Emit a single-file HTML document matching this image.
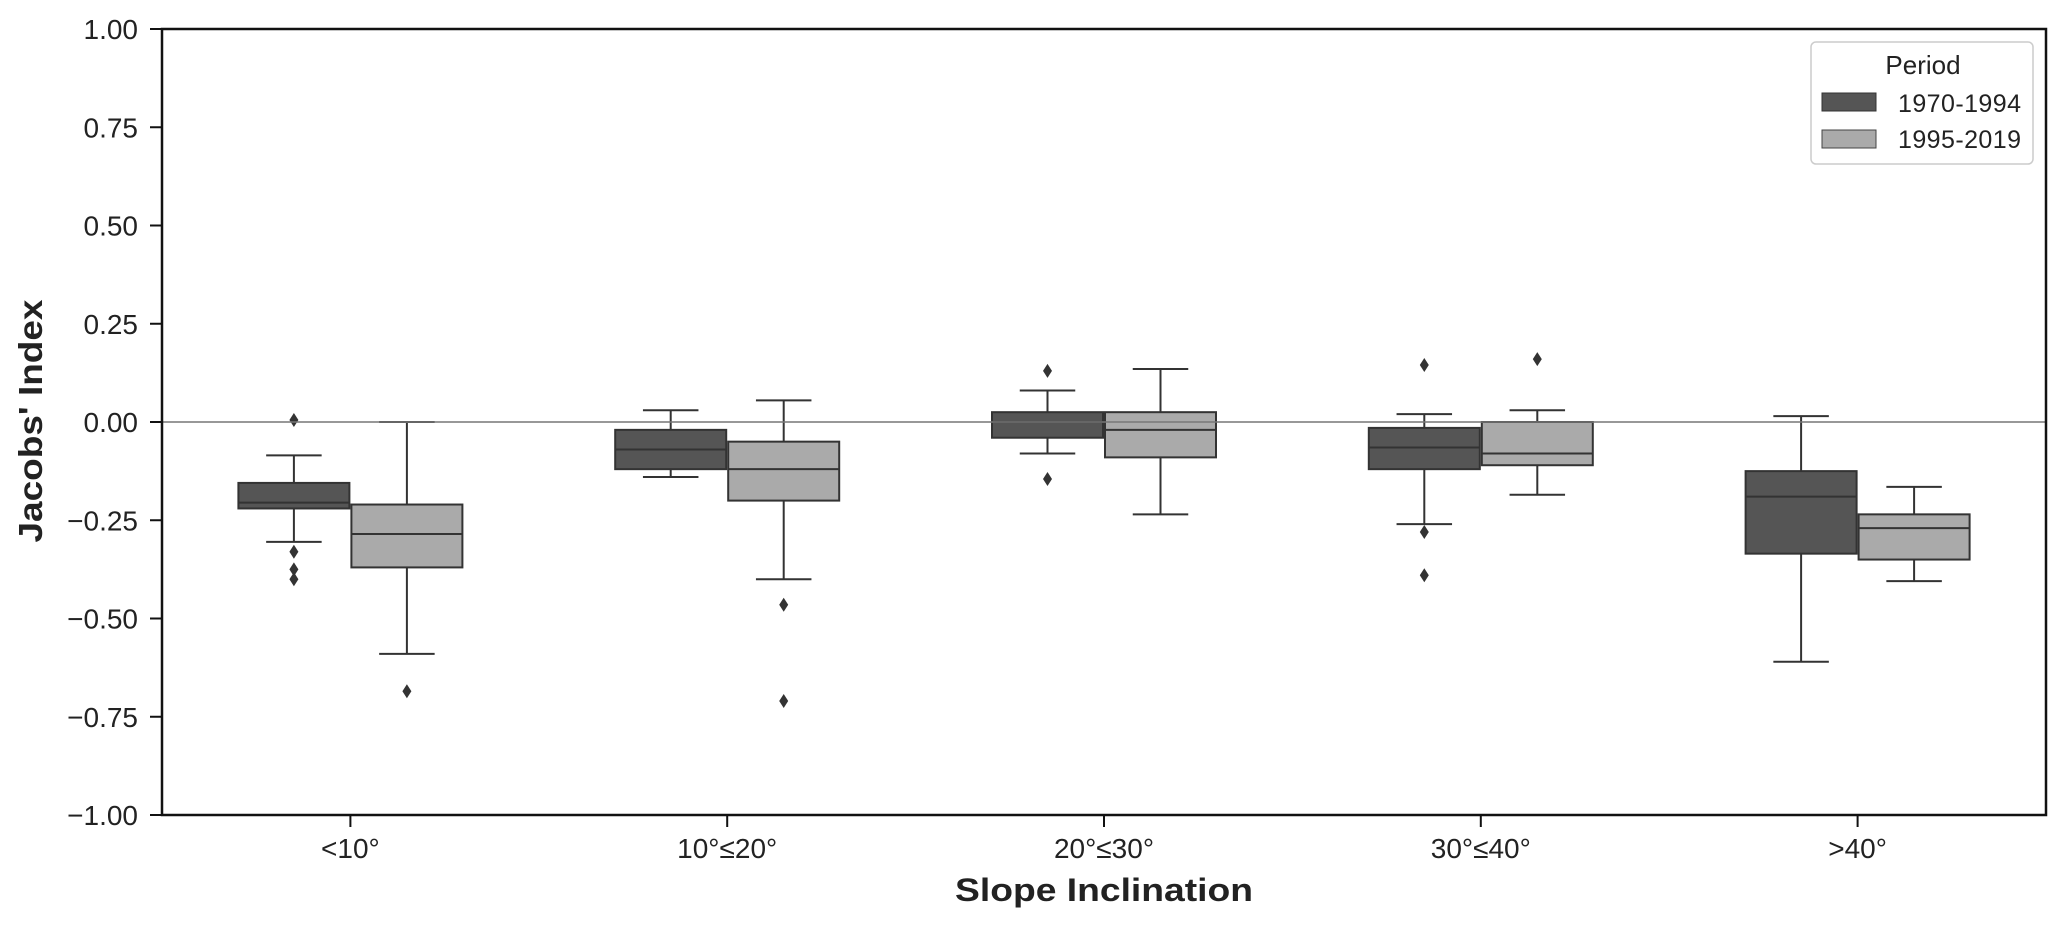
<!DOCTYPE html>
<html><head><meta charset="utf-8">
<style>
html,body{margin:0;padding:0;background:#fff;}
svg{display:block;font-family:"Liberation Sans",sans-serif;}
</style></head>
<body>
<svg id="chart" width="2067" height="928" viewBox="0 0 2067 928">
<rect x="0" y="0" width="2067" height="928" fill="#fff"/>
<g id="marks"></g>
<g id="axes"></g>
<g>
  <rect x="1811" y="42" width="222" height="122" rx="5" fill="#fff" stroke="#ccc" stroke-width="1.5"/>
  <text x="1923" y="74" font-size="26" text-anchor="middle" fill="#222">Period</text>
  <rect x="1822" y="93" width="54" height="18" fill="#555" stroke="#333"/>
  <text x="1898" y="112" font-size="25" textLength="123" fill="#222">1970-1994</text>
  <rect x="1822" y="130" width="54" height="18" fill="#aaa" stroke="#444"/>
  <text x="1898" y="148" font-size="25" textLength="123" fill="#222">1995-2019</text>
</g>
<text x="1104" y="901" font-size="32" font-weight="bold" text-anchor="middle" textLength="298" lengthAdjust="spacingAndGlyphs" fill="#222">Slope Inclination</text>
<text transform="translate(42,421) rotate(-90)" font-size="33" font-weight="bold" text-anchor="middle" textLength="243" lengthAdjust="spacingAndGlyphs" fill="#222">Jacobs' Index</text>
</svg>
<script>
const categories = ["<10°", "10°≤20°", "20°≤30°", "30°≤40°", ">40°"];
const periods = ["1970-1994", "1995-2019"];
// [whiskerLow, q1, median, q3, whiskerHigh]
const stats1970 = [
  [-0.305, -0.22, -0.205, -0.155, -0.085],
  [-0.14, -0.12, -0.07, -0.02, 0.03],
  [-0.08, -0.04, 0.0, 0.025, 0.08],
  [-0.26, -0.12, -0.065, -0.015, 0.02],
  [-0.61, -0.335, -0.19, -0.125, 0.015]
];
const stats1995 = [
  [-0.59, -0.37, -0.285, -0.21, 0.0],
  [-0.40, -0.20, -0.12, -0.05, 0.055],
  [-0.235, -0.09, -0.02, 0.025, 0.135],
  [-0.185, -0.11, -0.08, 0.0, 0.03],
  [-0.405, -0.35, -0.27, -0.235, -0.165]
];
const outliers1970 = [[0.005, -0.33, -0.375, -0.40], [], [0.13, -0.145], [0.145, -0.28, -0.39], []];
const outliers1995 = [[-0.685], [-0.465, -0.71], [], [0.16], []];
const yTicks = [1.0, 0.75, 0.5, 0.25, 0.0, -0.25, -0.5, -0.75, -1.0];

const L = 162, R = 2046, T = 29, B = 815;
const NS = "http://www.w3.org/2000/svg";
function y(v){ return B - (v + 1) / 2 * (B - T); }
function xc(i){ return L + (R - L) / categories.length * (i + 0.5); }
function el(tag, attrs, parent){ const e = document.createElementNS(NS, tag); for (const k in attrs) e.setAttribute(k, attrs[k]); parent.appendChild(e); return e; }

const marks = document.getElementById('marks');
const axes = document.getElementById('axes');
const bw = 111, off = 56.5;
const series = [
  {stats: stats1970, out: outliers1970, fill: "#555555", key: "1970-1994", dx: -off},
  {stats: stats1995, out: outliers1995, fill: "#aaaaaa", key: "1995-2019", dx: off}
];
series.forEach(s => {
  s.stats.forEach((st, i) => {
    const cx = xc(i) + s.dx;
    const g = el('g', {}, marks);
    
    
    const st2 = {stroke: "#333", "stroke-width": 2, fill: "none"};
    el('line', Object.assign({x1: cx, x2: cx, y1: y(st[4]), y2: y(st[3])}, st2), g);
    el('line', Object.assign({x1: cx, x2: cx, y1: y(st[1]), y2: y(st[0])}, st2), g);
    el('line', Object.assign({x1: cx - bw / 4, x2: cx + bw / 4, y1: y(st[4]), y2: y(st[4])}, st2), g);
    el('line', Object.assign({x1: cx - bw / 4, x2: cx + bw / 4, y1: y(st[0]), y2: y(st[0])}, st2), g);
    el('rect', {x: cx - bw / 2, y: y(st[3]), width: bw, height: y(st[1]) - y(st[3]), fill: s.fill, stroke: "#333", "stroke-width": 2}, g);
    el('line', Object.assign({x1: cx - bw / 2, x2: cx + bw / 2, y1: y(st[2]), y2: y(st[2])}, st2), g);
    s.out[i].forEach(v => {
      const py = y(v);
      const d = el('path', {d: `M${cx} ${py - 7}L${cx + 4.5} ${py}L${cx} ${py + 7}L${cx - 4.5} ${py}Z`, fill: "#333"}, g);
      
      
    });
  });
});
const zl = el('line', {x1: L, x2: R, y1: y(0), y2: y(0), stroke: "#777", "stroke-width": 1.5}, marks);


const fr = el('rect', {x: L, y: T, width: R - L, height: B - T, fill: "none", stroke: "#111", "stroke-width": 2.5}, axes);


yTicks.forEach(v => {
  el('line', {x1: L - 12, x2: L, y1: y(v), y2: y(v), stroke: "#111", "stroke-width": 2}, axes);
  const t = el('text', {x: L - 24, y: y(v) + 10, "font-size": 28, "text-anchor": "end", fill: "#222"}, axes);
  t.textContent = v.toFixed(2).replace('-', '\u2212');
  
  
});
categories.forEach((c, i) => {
  el('line', {x1: xc(i), x2: xc(i), y1: B, y2: B + 12, stroke: "#111", "stroke-width": 2}, axes);
  const t = el('text', {x: xc(i), y: B + 43, "font-size": 28, "text-anchor": "middle", fill: "#222"}, axes);
  t.textContent = c;
  
  
});
</script>
</body></html>
